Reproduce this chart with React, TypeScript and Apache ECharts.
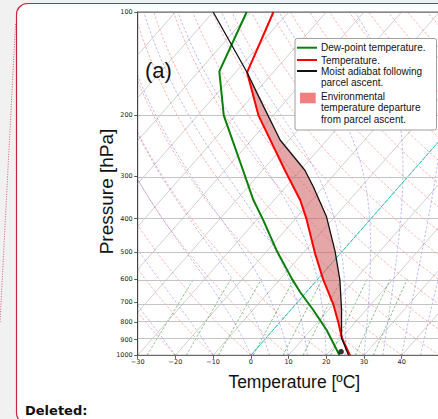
import React, { useEffect, useRef } from "react";
import * as echarts from "echarts";

// ---- axis ticks ----
const pressureTicks = [100, 200, 300, 400, 500, 600, 700, 800, 900, 1000];
const temperatureTicks = [-30, -20, -10, 0, 10, 20, 30, 40, 50];
const temperatureLabels = [-30, -20, -10, 0, 10, 20, 30, 40];

// ---- sounding data ----
const envPressure = [1000, 890, 805, 709, 600, 505, 400, 353, 289, 200, 150, 100];
const envTemperature = [26.3, 20.1, 15.7, 9.9, 1.4, -6.7, -17.1, -23.1, -34.1, -53.9, -66.9, -74.0];

const dewPressure = [1000, 844, 738, 654, 597, 494, 404, 353, 289, 200, 149, 100];
const dewTemperature = [23.5, 14.2, 6.0, -1.7, -7.1, -17.7, -28.2, -35.5, -45.2, -63.1, -74.5, -81.1];

const parcelPressure = [1000, 890, 738, 604, 499, 395, 323, 289, 236, 180, 150, 100];
const parcelTemperature = [25.9, 20.0, 13.5, 6.1, -1.8, -12.2, -22.7, -28.8, -42.4, -57.1, -66.9, -90.0];

const markerPressure = [976];
const markerTemperature = [23.1];

// shaded region bounds (pressure range where parcel is warmer)
const shadeTop = 150;
const shadeBottom = 890;

// ---- reference lines of the skew-T ----
const isothermTemps = [-110, -100, -90, -80, -70, -60, -50, -40, -30, -20, -10, 0, 10, 20, 30, 40, 50];
const dryAdiabatStarts = [-30, -20, -10, 0, 10, 20, 30, 40, 50, 60, 70, 80, 90, 100, 110, 120, 130, 140, 150, 160, 170, 180, 190, 200];
const moistAdiabatStarts = [-30, -20, -10, 0, 5, 10, 15, 20, 25, 30, 35, 40, 45, 50];
const mixingRatios = [0.0004, 0.001, 0.002, 0.004, 0.007, 0.01, 0.016, 0.024, 0.032];
const highlightIsotherm = [0];

const SKEW = 80; // degC shift per decade of pressure (45 deg skew)
const KAPPA = 0.28571;
const RD = 287.04749;
const CPD = 1004.6662;
const LV = 2.50084e6;
const EPS = 0.6219569;

const toXY = (t: number, p: number): [number, number] => [t + SKEW * Math.log10(1000 / p), Math.log10(p)];

const satVap = (tK: number) => {
  const tc = tK - 273.15;
  return 6.112 * Math.exp((17.67 * tc) / (tc + 243.5));
};
const moistSlope = (tK: number, p: number) => {
  const es = satVap(tK);
  const rs = (EPS * es) / (p - es);
  return (RD * tK + LV * rs) / (p * (CPD + (LV * LV * rs * EPS) / (RD * tK * tK)));
};
const moistLine = (t0: number) => {
  const pts: [number, number][] = [];
  let t = t0 + 273.15;
  let p = 1000;
  const dp = -5;
  pts.push(toXY(t - 273.15, p));
  while (p > 100.001) {
    const k1 = moistSlope(t, p);
    const k2 = moistSlope(t + (dp / 2) * k1, p + dp / 2);
    const k3 = moistSlope(t + (dp / 2) * k2, p + dp / 2);
    const k4 = moistSlope(t + dp * k3, p + dp);
    t += (dp / 6) * (k1 + 2 * k2 + 2 * k3 + k4);
    p += dp;
    pts.push(toXY(t - 273.15, p));
  }
  return pts;
};
const dryLine = (t0: number) => {
  const pts: [number, number][] = [];
  for (let p = 1000; p >= 100; p -= 10) {
    pts.push(toXY((t0 + 273.15) * Math.pow(p / 1000, KAPPA) - 273.15, p));
  }
  return pts;
};
const mixingLine = (w: number) => {
  const pts: [number, number][] = [];
  for (let p = 1000; p >= 600; p -= 25) {
    const e = (p * w) / (EPS + w);
    const v = Math.log(e / 6.112);
    pts.push(toXY((243.5 * v) / (17.67 - v), p));
  }
  return pts;
};

const profile = (ps: number[], ts: number[]) => ps.map((p, i) => toXY(ts[i], p));

const thin = (data: [number, number][], color: string, width: number, type: any, z: number) => ({
  type: "line",
  data,
  symbol: "none",
  showSymbol: false,
  silent: true,
  clip: true,
  animation: false,
  lineStyle: { color, width, type },
  z,
});

export default function App() {
  const ref = useRef<HTMLDivElement>(null);

  useEffect(() => {
    if (!ref.current) return;
    const chart = echarts.init(ref.current, undefined, { renderer: "svg" });

    const envData = profile(envPressure, envTemperature);
    const dewData = profile(dewPressure, dewTemperature);
    const parcelData = profile(parcelPressure, parcelTemperature);
    const markerData = profile(markerPressure, markerTemperature);

    const redPart = envPressure
      .map((p, i) => [p, envTemperature[i]])
      .filter(([p]) => p >= shadeTop && p <= shadeBottom)
      .sort((a, b) => a[0] - b[0]);
    const blackPart = parcelPressure
      .map((p, i) => [p, parcelTemperature[i]])
      .filter(([p]) => p >= shadeTop && p <= shadeBottom)
      .sort((a, b) => b[0] - a[0]);
    const shadePoly = [...redPart, ...blackPart].map(([p, t]) => toXY(t, p));

    const series: any[] = [];
    isothermTemps.forEach((t, i) => {
      const s: any = thin([toXY(t, 1000), toXY(t, 100)], "#c4c4c4", 0.8, "solid", 1);
      if (i === 0) {
        s.markLine = {
          silent: true,
          symbol: "none",
          animation: false,
          label: { show: false },
          lineStyle: { color: "#c4c4c4", width: 1, type: "solid" },
          data: pressureTicks.map((p) => ({ yAxis: Math.log10(p) })),
        };
      }
      series.push(s);
    });
    dryAdiabatStarts.forEach((t) => series.push(thin(dryLine(t), "rgba(255,0,0,0.38)", 0.8, [2.5, 1.8], 2)));
    moistAdiabatStarts.forEach((t) => series.push(thin(moistLine(t), "rgba(0,0,255,0.34)", 0.8, [2.5, 1.8], 2)));
    mixingRatios.forEach((w) => series.push(thin(mixingLine(w), "rgba(0,128,0,0.6)", 0.8, [2.5, 1.8], 2)));
    highlightIsotherm.forEach((t) => series.push(thin([toXY(t, 1000), toXY(t, 100)], "#19c4c4", 1, [4, 1.2], 3)));

    series.push({
      type: "custom",
      data: shadePoly,
      encode: { x: 0, y: 1 },
      silent: true,
      animation: false,
      z: 5,
      renderItem: (params: any, api: any) => {
        if (params.dataIndex !== 0) return null;
        return {
          type: "polygon",
          shape: { points: shadePoly.map((d) => api.coord(d)) },
          style: { fill: "rgba(205,92,92,0.55)" },
        };
      },
    });

    series.push({ ...thin(dewData, "#0a800a", 2, "solid", 6), name: "Dew-point temperature." });
    series.push({ ...thin(envData, "#ff0000", 2, "solid", 7), name: "Temperature." });
    series.push({ ...thin(parcelData, "#111111", 1.3, "solid", 8), name: "Moist adiabat following parcel ascent." });
    series.push({
      type: "scatter",
      data: markerData,
      symbol: "circle",
      symbolSize: 5.5,
      itemStyle: { color: "#000" },
      silent: true,
      animation: false,
      z: 9,
    });

    const txt = (text: string, x: number, y: number, extra: any = {}) => ({
      type: "text",
      x,
      y,
      z: 101,
      silent: true,
      style: {
        text,
        fill: "#111",
        fontSize: 10,
        fontFamily: "Liberation Sans",
        align: "left",
        verticalAlign: "middle",
        ...extra,
      },
    });

    chart.setOption({
      animation: false,
      backgroundColor: "transparent",
      textStyle: { fontFamily: "Liberation Sans" },
      grid: {
        left: 137.7,
        top: 12,
        width: 301.7,
        height: 343.3,
        show: true,
        borderColor: "#333",
        borderWidth: 0.8,
        backgroundColor: "transparent",
        containLabel: false,
        outerBoundsMode: "none",
        z: 10,
      },
      xAxis: {
        type: "value",
        min: -30,
        max: 50,
        interval: 10,
        axisLine: { show: true, onZero: false, lineStyle: { color: "#333", width: 0.8 } },
        axisTick: { show: true, length: 3.5, lineStyle: { color: "#333", width: 0.8 }, customValues: temperatureTicks },
        axisLabel: {
          fontSize: 6.5,
          color: "#222",
          margin: 3,
          fontFamily: "DejaVu Sans",
          customValues: temperatureLabels,
          formatter: (v: number) => String(v).replace("-", "\u2212"),
        },
        splitLine: { show: false },
      },
      yAxis: {
        type: "value",
        min: 2,
        max: 3,
        inverse: true,
        axisLine: { show: true, onZero: false, lineStyle: { color: "#333", width: 0.8 } },
        axisTick: {
          show: true,
          length: 3.5,
          lineStyle: { color: "#333", width: 0.8 },
          customValues: pressureTicks.map((p) => Math.log10(p)),
        },
        axisLabel: {
          fontSize: 6.5,
          color: "#222",
          margin: 5,
          fontFamily: "DejaVu Sans",
          customValues: pressureTicks.map((p) => Math.log10(p)),
          formatter: (v: number) => String(Math.round(Math.pow(10, v))),
        },
        splitLine: { show: false },
      },
      graphic: [
        { type: "rect", z: -20, silent: true, shape: { x: 0, y: 0, width: 438, height: 419 }, style: { fill: "#f1f1f1" } },
        {
          type: "rect",
          z: -19,
          silent: true,
          shape: { x: 16.5, y: 3.5, width: 440, height: 420.5, r: 11 },
          style: { fill: "#ffffff", stroke: "#c8243c", lineWidth: 1.2 },
        },
        {
          type: "line",
          z: -18,
          silent: true,
          shape: { x1: 15.5, y1: 24, x2: 0, y2: 323 },
          style: { stroke: "#d35a7a", lineWidth: 1, lineDash: [1, 1.5] },
        },
        {
          type: "text",
          x: 25,
          y: 417,
          z: 50,
          silent: true,
          style: { text: "Deleted:", fill: "#111", fontSize: 13, fontWeight: "bold", fontFamily: "DejaVu Sans", verticalAlign: "bottom" },
        },
        {
          type: "text",
          x: 145,
          y: 70,
          z: 50,
          silent: true,
          style: { text: "(a)", fill: "#111", fontSize: 22, fontFamily: "Liberation Sans", verticalAlign: "middle" },
        },
        {
          type: "text",
          x: 106,
          y: 191.5,
          rotation: Math.PI / 2,
          z: 50,
          silent: true,
          style: { text: "Pressure [hPa]", fill: "#111", fontSize: 19, fontFamily: "Liberation Sans", align: "center", verticalAlign: "middle" },
        },
        {
          type: "text",
          x: 294.3,
          y: 381.5,
          z: 50,
          silent: true,
          style: { text: "Temperature [\u00baC]", fill: "#111", fontSize: 17.5, fontFamily: "Liberation Sans", align: "center", verticalAlign: "middle" },
        },
        // legend
        {
          type: "rect",
          z: 100,
          silent: true,
          shape: { x: 295, y: 38.5, width: 141.5, height: 91.5, r: 2 },
          style: { fill: "#ffffff", stroke: "#888", lineWidth: 0.8 },
        },
        { type: "line", z: 101, silent: true, shape: { x1: 297, y1: 47.7, x2: 317, y2: 47.7 }, style: { stroke: "#0a800a", lineWidth: 2 } },
        { type: "line", z: 101, silent: true, shape: { x1: 297, y1: 60, x2: 317, y2: 60 }, style: { stroke: "#ff0000", lineWidth: 2 } },
        { type: "line", z: 101, silent: true, shape: { x1: 297, y1: 71, x2: 317, y2: 71 }, style: { stroke: "#111", lineWidth: 2 } },
        { type: "rect", z: 101, silent: true, shape: { x: 300, y: 92.7, width: 15.7, height: 10.6 }, style: { fill: "#f08080" } },
        txt("Dew-point temperature.", 321, 47.7),
        txt("Temperature.", 321, 60),
        txt("Moist adiabat following", 321, 71.2),
        txt("parcel ascent.", 321, 82.6),
        txt("Environmental", 321, 96),
        txt("temperature departure", 321, 107.7),
        txt("from parcel ascent.", 321, 119.2),
      ],
      series,
    });

    return () => chart.dispose();
  }, []);

  return <div ref={ref} style={{ position: "absolute", left: 0, top: 0, width: 438, height: 419 }} />;
}
